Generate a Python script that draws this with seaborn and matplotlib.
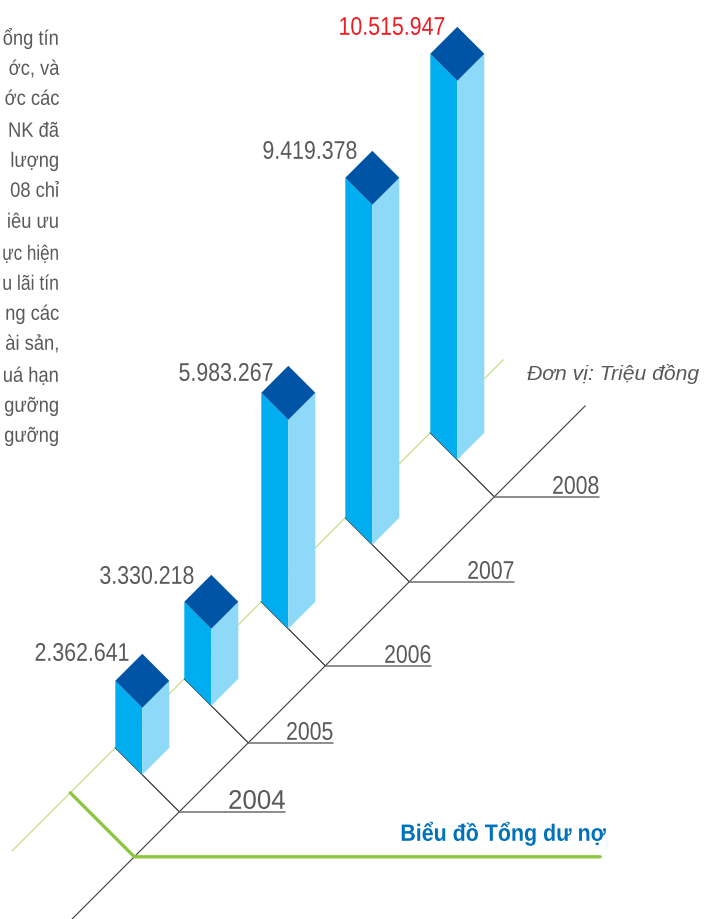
import matplotlib
matplotlib.use("Agg")
import matplotlib.pyplot as plt
import matplotlib.patheffects as pe
from matplotlib.transforms import Affine2D
import pandas as pd
import seaborn as sns

years = ["2004", "2005", "2006", "2007", "2008"]
total_loans = [2362641, 3330218, 5983267, 9419378, 10515947]
# drawn height of each column (not proportional to the values)
column_heights = [67, 77, 209, 340, 379]

left_text = ["ổng tín", "ớc, và", "ớc các", "NK đã", "lượng", "08 chỉ", "iêu ưu",
             "ực hiện", "u lãi tín", "ng các", "ài sản,", "uá hạn", "gưỡng", "gưỡng"]
unit_text = "Đơn vị: Triệu đồng"
title_text = "Biểu đồ Tổng dư nợ"

# layout, in pixels of the 705x920 picture
AXIS_SUM = 991  # the main axis is the line x + y = 991
tick_x = [179, 248, 325, 409, 494]
tick_end = [285, 333, 431, 514, 599]
year_size = [19.4, 18.4, 18.4, 18.4, 18.4]
year_squeeze = [0.96, 0.83, 0.83, 0.83, 0.83]
label_right = [129, 194, 273, 357, 445]
label_shift = [7, 9, 15, 8, 8]
left_y = [45, 75, 105, 137, 167, 197, 228, 260, 290, 320, 350, 382, 412, 442]
HALF = 27
OFFSET = 37

GRAY = "#58595B"
FRONT = "#00AEEF"
SIDE = "#8ED8F8"
TOP = "#0054A6"


class Squeeze(pe.AbstractPathEffect):
    # the reference type is condensed, no narrow font is installed
    def __init__(self, sx):
        super().__init__()
        self.sx = sx

    def draw_path(self, renderer, gc, tpath, affine, rgbFace=None):
        renderer.draw_path(gc, tpath, Affine2D().scale(self.sx, 1) + affine, rgbFace)


def squeezed_text(ax, right, y, s, sx, max_w=None, **kw):
    t = ax.text(right, y, s, ha="left", va="baseline", **kw)
    w = t.get_window_extent(ax.figure.canvas.get_renderer()).width
    if max_w is not None:
        sx = min(sx, max_w / w)
    t.set_x(right - w * sx)
    t.set_path_effects([Squeeze(sx)])
    return t


def draw_line(ax, xs, ys, color, lw, zorder=2):
    df = pd.DataFrame({"x": xs, "y": ys})
    sns.lineplot(data=df, x="x", y="y", sort=False, estimator=None, color=color,
                 linewidth=lw, zorder=zorder, ax=ax)


def main():
    sns.set_theme(style="white")
    plt.rcParams["font.family"] = ["Liberation Sans", "DejaVu Sans"]

    fig = plt.figure(figsize=(7.05, 9.2), dpi=100)
    ax = fig.add_axes([0, 0, 1, 1])

    # Guides behind the columns
    draw_line(ax, [12, 503], [851, 360], "#C5E08A", 0.9, zorder=1)
    draw_line(ax, [71, 585], [920, 406], "#3A3A3A", 0.8)
    draw_line(ax, [70, 134, 600], [793, 857, 857], "#8DC63F", 2.4, zorder=3)

    for i, year in enumerate(years):
        tx = tick_x[i]
        ty = AXIS_SUM - tx
        fx = tx - OFFSET
        fy = ty - OFFSET
        top = fy - column_heights[i]

        draw_line(ax, [fx - HALF, tx], [fy - HALF, ty], "#222222", 0.8)
        draw_line(ax, [tx, tick_end[i]], [ty, ty], "#6D6E71", 1.1)

        ax.fill([fx - HALF, fx, fx, fx - HALF],
                [fy - HALF, fy, top, top - HALF], color=FRONT, lw=0, zorder=4)
        ax.fill([fx, fx + HALF, fx + HALF, fx],
                [fy, fy - HALF, top - HALF, top], color=SIDE, lw=0, zorder=4)
        ax.fill([fx, fx + HALF, fx, fx - HALF],
                [top, top - HALF, top - 2 * HALF, top - HALF], color=TOP, lw=0, zorder=5)

        label = f"{total_loans[i]:,}".replace(",", ".")
        squeezed_text(ax, label_right[i], top - 2 * HALF + label_shift[i], label, 0.835,
                      color="#ED1C24" if i == len(years) - 1 else GRAY,
                      fontsize=18.4, zorder=6)
        squeezed_text(ax, tick_end[i], ty - 3, year, year_squeeze[i], color=GRAY,
                      fontsize=year_size[i], zorder=6)

    for y, line in zip(left_y, left_text):
        squeezed_text(ax, 59, y, line, 0.88, max_w=57, color=GRAY, fontsize=15)

    ax.text(527, 379, unit_text, color=GRAY, fontsize=15.2, style="italic", va="baseline")
    squeezed_text(ax, 606, 841, title_text, 0.907, color="#0072BC", fontsize=17, fontweight="bold")

    ax.set_xlim(-0.3, 704.7)
    ax.set_ylim(919.2, -0.8)
    ax.axis("off")
    fig.savefig("out.png", dpi=100)
    plt.close(fig)


if __name__ == "__main__":
    main()
